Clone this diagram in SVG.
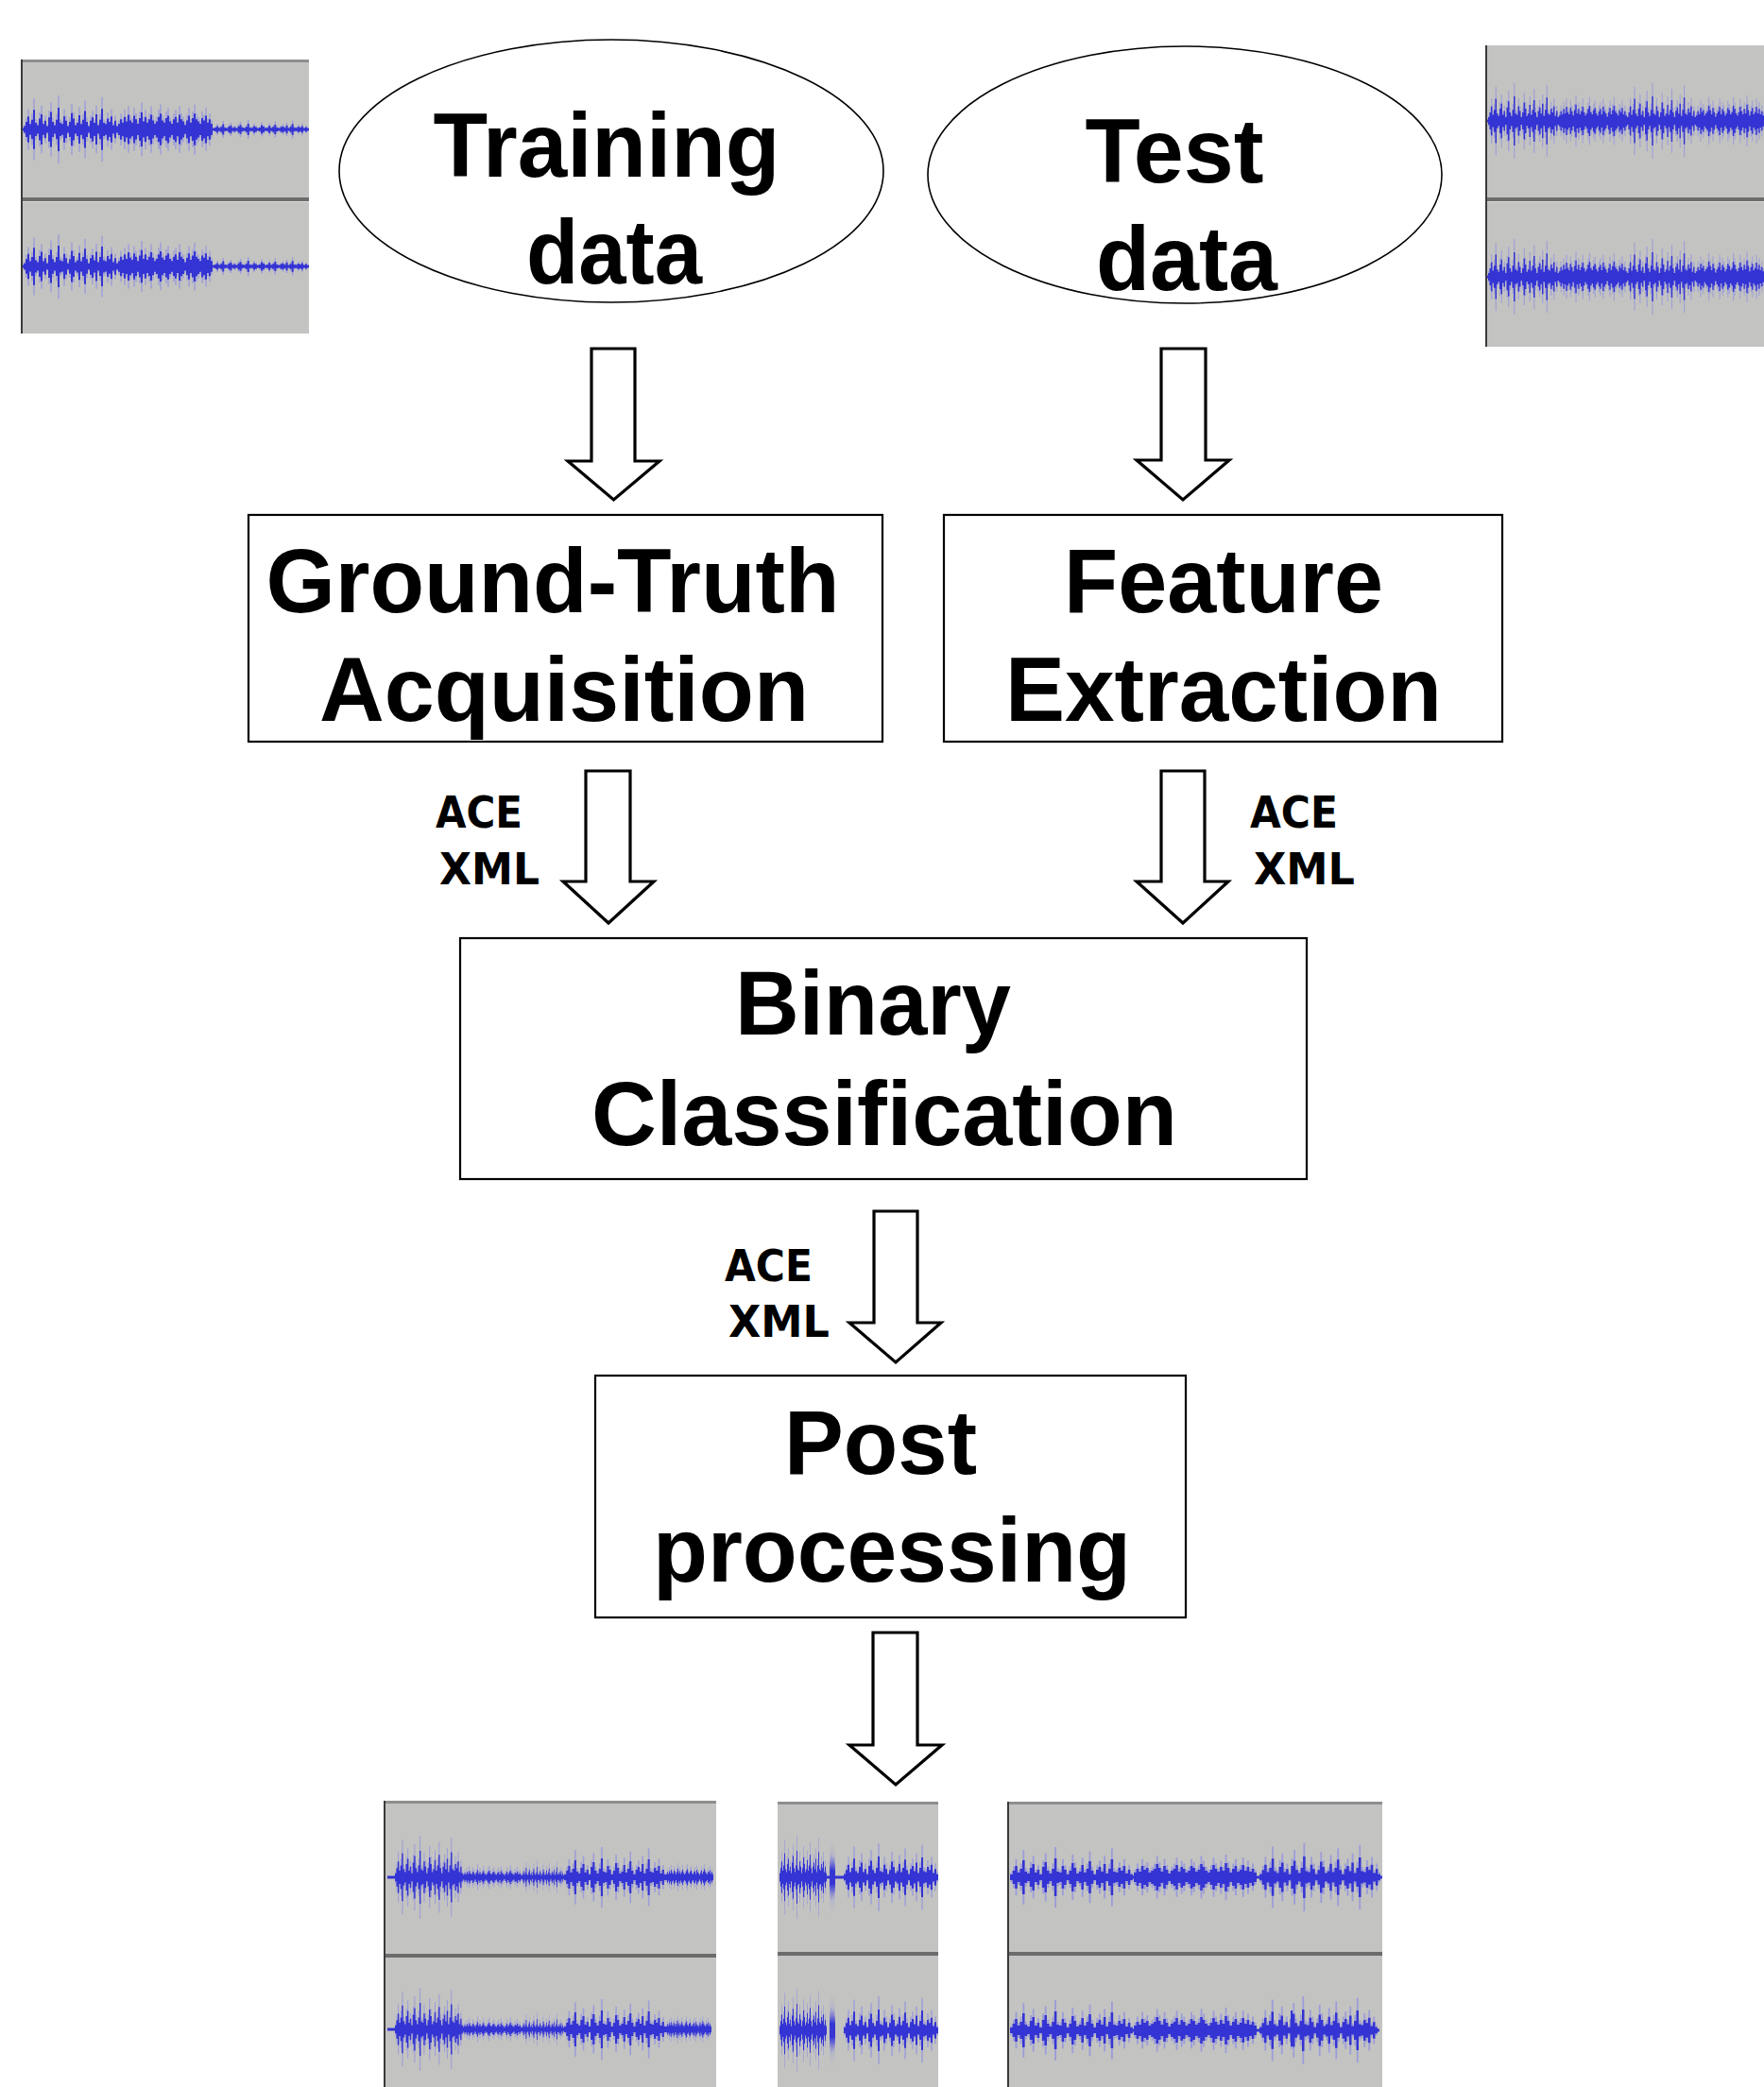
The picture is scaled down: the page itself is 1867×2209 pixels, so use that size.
<svg xmlns="http://www.w3.org/2000/svg" xmlns:xlink="http://www.w3.org/1999/xlink" width="1867" height="2209" viewBox="0 0 1867 2209">
<style>
.bg{fill:#ffffff}
.ell{fill:#ffffff;stroke:#000;stroke-width:1.6}
.box{fill:#ffffff;stroke:#000;stroke-width:2.2}
.t{font-family:"Liberation Sans",Arial,sans-serif;font-weight:bold;font-size:96px;fill:#000;text-anchor:middle}
.lab{font-family:"Comic Sans MS","DejaVu Sans",sans-serif;font-weight:bold;font-size:46px;fill:#000}
.arr{fill:#ffffff;stroke:#000;stroke-width:3.2;stroke-linejoin:miter}
.panel{fill:#c3c3c1}
.ptop{fill:#8e8e8e}
.pleft{fill:#3a3a3a}
.pdiv{fill:#6c6c6c}
.pdivl{fill:#dcdcdc}
.wave{fill:none;stroke:#3434d4;stroke-width:2}
.halo{fill:none;stroke:#8c8ce4;stroke-width:1.4;opacity:0.7}
.base{stroke:#3434d4;stroke-width:3}
</style>
<defs>
<path id="wl" d="M1-5v10M3-9v18M5-6v12M7-11v22M9-7v14M11-13v26M13-8v16M15-6v12M17-12v24M19-9v18M21-5v10M23-10v20M25-15v30M27-7v14M29-11v22M31-6v12M33-9v18M35-13v26M37-8v16M39-5v10M41-7v14M43-11v22M45-14v28M47-8v16M49-6v12M51-10v20M53-12v24M55-7v14M57-5v10M59-9v18M61-11v22M63-6v12M65-13v26M67-9v18M69-7v14M71-4v8M73-8v16M75-12v24M77-6v12M79-10v20M81-14v28M83-9v18M85-7v14M87-5v10M89-10v20M91-8v16M93-12v24M95-6v12M97-9v18M99-5v10"/>
<path id="w2" d="M1-3v6M3-7v14M5-12v24M7-5v10M9-9v18M11-18v36M13-6v12M15-4v8M17-10v20M19-14v28M21-5v10M23-8v16M25-3v6M27-11v22M29-16v32M31-7v14M33-4v8M35-9v18M37-20v40M39-6v12M41-5v10M43-12v24M45-8v16M47-3v6M49-7v14M51-15v30M53-10v20M55-4v8M57-6v12M59-13v26M61-5v10M63-9v18M65-17v34M67-7v14M69-3v6M71-8v16M73-11v22M75-6v12M77-14v28M79-4v8M81-9v18M83-19v38M85-6v12M87-5v10M89-10v20M91-7v14M93-12v24M95-4v8M97-8v16M99-3v6"/>
</defs>
<rect class="bg" x="0" y="0" width="1867" height="2209"/>

<!-- waveform picture, top left -->
<g id="wave-training">
<rect class="panel" x="23" y="63" width="304" height="290"/>
<rect class="ptop" x="23" y="63" width="304" height="3"/>
<rect class="pdiv" x="23" y="209" width="304" height="4"/>
<rect class="pdivl" x="23" y="213" width="304" height="1"/>
<rect class="pleft" x="22" y="63" width="2" height="290"/>
<line class="base" x1="24" y1="137" x2="327" y2="137"/>
<line class="base" x1="24" y1="282" x2="327" y2="282"/>
<use href="#w2" class="halo" transform="translate(25,137) scale(1,1.8)"/>
<use href="#w2" class="wave" transform="translate(25,137) scale(1,1.15)"/>
<use href="#wl" class="halo" transform="translate(125,137) scale(1,1.9)"/>
<use href="#wl" class="wave" transform="translate(125,137) scale(1,1.2)"/>
<use href="#w2" class="halo" transform="translate(225,137) scale(1.02,0.5)"/>
<use href="#w2" class="wave" transform="translate(225,137) scale(1.02,0.3)"/>
<use href="#w2" class="halo" transform="translate(25,282) scale(1,1.7)"/>
<use href="#w2" class="wave" transform="translate(25,282) scale(1,1.1)"/>
<use href="#wl" class="halo" transform="translate(125,282) scale(1,1.8)"/>
<use href="#wl" class="wave" transform="translate(125,282) scale(1,1.15)"/>
<use href="#w2" class="halo" transform="translate(225,282) scale(1.02,0.5)"/>
<use href="#w2" class="wave" transform="translate(225,282) scale(1.02,0.3)"/>
</g>

<!-- waveform picture, top right -->
<g id="wave-test">
<rect class="panel" x="1573" y="48" width="294" height="319"/>
<rect class="pdiv" x="1573" y="209" width="294" height="4"/>
<rect class="pdivl" x="1573" y="213" width="294" height="1"/>
<rect class="pleft" x="1572" y="48" width="2" height="319"/>
<line class="base" x1="1574" y1="128" x2="1867" y2="128"/>
<line class="base" x1="1574" y1="293" x2="1867" y2="293"/>
<use href="#w2" class="halo" transform="translate(1575,128) scale(0.75,2.0)"/>
<use href="#w2" class="wave" transform="translate(1575,128) scale(0.75,1.3)"/>
<use href="#wl" class="halo" transform="translate(1650,128) scale(0.72,1.8)"/>
<use href="#wl" class="wave" transform="translate(1650,128) scale(0.72,1.15)"/>
<use href="#w2" class="halo" transform="translate(1722,128) scale(0.73,2.0)"/>
<use href="#w2" class="wave" transform="translate(1722,128) scale(0.73,1.3)"/>
<use href="#wl" class="halo" transform="translate(1867,128) scale(-0.72,1.8)"/>
<use href="#wl" class="wave" transform="translate(1867,128) scale(-0.72,1.15)"/>
<use href="#w2" class="halo" transform="translate(1575,293) scale(0.75,2.0)"/>
<use href="#w2" class="wave" transform="translate(1575,293) scale(0.75,1.3)"/>
<use href="#wl" class="halo" transform="translate(1650,293) scale(0.72,1.8)"/>
<use href="#wl" class="wave" transform="translate(1650,293) scale(0.72,1.15)"/>
<use href="#w2" class="halo" transform="translate(1722,293) scale(0.73,2.0)"/>
<use href="#w2" class="wave" transform="translate(1722,293) scale(0.73,1.3)"/>
<use href="#wl" class="halo" transform="translate(1867,293) scale(-0.72,1.8)"/>
<use href="#wl" class="wave" transform="translate(1867,293) scale(-0.72,1.15)"/>
</g>

<!-- waveform pictures, bottom -->
<g id="wave-out-1">
<rect class="panel" x="407" y="1906" width="351" height="303"/>
<rect class="ptop" x="407" y="1906" width="351" height="3"/>
<rect class="pdiv" x="407" y="2068" width="351" height="4"/>
<rect class="pleft" x="406" y="1906" width="2" height="303"/>
<line class="base" x1="410" y1="1987" x2="755" y2="1987"/>
<line class="base" x1="410" y1="2148" x2="752" y2="2148"/>
<use href="#w2" class="halo" transform="translate(418,1987) scale(0.72,2.2)"/>
<use href="#w2" class="wave" transform="translate(418,1987) scale(0.72,1.4)"/>
<use href="#wl" class="halo" transform="translate(490,1987) scale(0.62,0.9)"/>
<use href="#wl" class="wave" transform="translate(490,1987) scale(0.62,0.5)"/>
<use href="#w2" class="halo" transform="translate(552,1987) scale(0.45,0.9)"/>
<use href="#w2" class="wave" transform="translate(552,1987) scale(0.45,0.55)"/>
<use href="#w2" class="halo" transform="translate(597,1987) scale(1.08,1.6)"/>
<use href="#w2" class="wave" transform="translate(597,1987) scale(1.08,1.0)"/>
<use href="#wl" class="halo" transform="translate(705,1987) scale(0.5,1.0)"/>
<use href="#wl" class="wave" transform="translate(705,1987) scale(0.5,0.6)"/>
<use href="#w2" class="halo" transform="translate(418,2148) scale(0.72,2.2)"/>
<use href="#w2" class="wave" transform="translate(418,2148) scale(0.72,1.4)"/>
<use href="#wl" class="halo" transform="translate(490,2148) scale(0.62,0.9)"/>
<use href="#wl" class="wave" transform="translate(490,2148) scale(0.62,0.5)"/>
<use href="#w2" class="halo" transform="translate(552,2148) scale(0.45,0.9)"/>
<use href="#w2" class="wave" transform="translate(552,2148) scale(0.45,0.55)"/>
<use href="#w2" class="halo" transform="translate(597,2148) scale(1.08,1.6)"/>
<use href="#w2" class="wave" transform="translate(597,2148) scale(1.08,1.0)"/>
<use href="#wl" class="halo" transform="translate(705,2148) scale(0.48,1.0)"/>
<use href="#wl" class="wave" transform="translate(705,2148) scale(0.48,0.6)"/>
</g>

<g id="wave-out-2">
<rect class="panel" x="823" y="1907" width="170" height="302"/>
<rect class="ptop" x="823" y="1907" width="170" height="3"/>
<rect class="pdiv" x="823" y="2066" width="170" height="4"/>
<line class="base" x1="825" y1="1987" x2="993" y2="1987"/>
<line class="base" x1="825" y1="2149" x2="875" y2="2149"/>
<line class="base" x1="893" y1="2149" x2="993" y2="2149"/>
<use href="#w2" class="halo" transform="translate(825,1987) scale(0.5,2.2)"/>
<use href="#w2" class="wave" transform="translate(825,1987) scale(0.5,1.4)"/>
<use href="#wl" class="halo" transform="translate(878,1987) scale(0.06,2.6)"/>
<use href="#wl" class="wave" transform="translate(878,1987) scale(0.06,1.6)"/>
<use href="#w2" class="halo" transform="translate(893,1987) scale(1.0,1.8)"/>
<use href="#w2" class="wave" transform="translate(893,1987) scale(1.0,1.1)"/>
<use href="#w2" class="halo" transform="translate(825,2149) scale(0.5,2.2)"/>
<use href="#w2" class="wave" transform="translate(825,2149) scale(0.5,1.4)"/>
<use href="#wl" class="halo" transform="translate(878,2149) scale(0.06,2.6)"/>
<use href="#wl" class="wave" transform="translate(878,2149) scale(0.06,1.6)"/>
<use href="#w2" class="halo" transform="translate(893,2149) scale(1.0,1.8)"/>
<use href="#w2" class="wave" transform="translate(893,2149) scale(1.0,1.1)"/>
</g>

<g id="wave-out-3">
<rect class="panel" x="1067" y="1907" width="396" height="302"/>
<rect class="ptop" x="1067" y="1907" width="396" height="3"/>
<rect class="pdiv" x="1067" y="2066" width="396" height="4"/>
<rect class="pleft" x="1066" y="1907" width="2" height="302"/>
<line class="base" x1="1069" y1="1987" x2="1463" y2="1987"/>
<line class="base" x1="1069" y1="2149" x2="1460" y2="2149"/>
<use href="#w2" class="halo" transform="translate(1069,1987) scale(1.3,1.6)"/>
<use href="#w2" class="wave" transform="translate(1069,1987) scale(1.3,1.0)"/>
<use href="#wl" class="halo" transform="translate(1330,1987) scale(-1.3,1.6)"/>
<use href="#wl" class="wave" transform="translate(1330,1987) scale(-1.3,1.0)"/>
<use href="#w2" class="halo" transform="translate(1333,1987) scale(1.28,1.8)"/>
<use href="#w2" class="wave" transform="translate(1333,1987) scale(1.28,1.1)"/>
<use href="#w2" class="halo" transform="translate(1069,2149) scale(1.3,1.6)"/>
<use href="#w2" class="wave" transform="translate(1069,2149) scale(1.3,1.0)"/>
<use href="#wl" class="halo" transform="translate(1330,2149) scale(-1.3,1.6)"/>
<use href="#wl" class="wave" transform="translate(1330,2149) scale(-1.3,1.0)"/>
<use href="#w2" class="halo" transform="translate(1333,2149) scale(1.25,1.8)"/>
<use href="#w2" class="wave" transform="translate(1333,2149) scale(1.25,1.1)"/>
<rect fill="#3434d4" x="1366" y="2128" width="2" height="38"/>
</g>

<!-- nodes -->
<g id="node-training-data">
<ellipse class="ell" cx="647" cy="181" rx="288" ry="139"/>
<text class="t" x="642" y="187" textLength="367" lengthAdjust="spacingAndGlyphs">Training</text>
<text class="t" x="650" y="300" textLength="186" lengthAdjust="spacingAndGlyphs">data</text>
</g>
<g id="node-test-data">
<ellipse class="ell" cx="1254" cy="185" rx="272" ry="136"/>
<text class="t" x="1243" y="193" textLength="189" lengthAdjust="spacingAndGlyphs">Test</text>
<text class="t" x="1256" y="307" textLength="192" lengthAdjust="spacingAndGlyphs">data</text>
</g>
<g id="node-ground-truth">
<rect class="box" x="263" y="545" width="671" height="240"/>
<text class="t" x="585" y="648" textLength="607" lengthAdjust="spacingAndGlyphs">Ground-Truth</text>
<text class="t" x="597" y="763" textLength="518" lengthAdjust="spacingAndGlyphs">Acquisition</text>
</g>
<g id="node-feature-extraction">
<rect class="box" x="999" y="545" width="591" height="240"/>
<text class="t" x="1295" y="648" textLength="338" lengthAdjust="spacingAndGlyphs">Feature</text>
<text class="t" x="1295" y="763" textLength="462" lengthAdjust="spacingAndGlyphs">Extraction</text>
</g>
<g id="node-binary-classification">
<rect class="box" x="487" y="993" width="896" height="255"/>
<text class="t" x="924" y="1095" textLength="292" lengthAdjust="spacingAndGlyphs">Binary</text>
<text class="t" x="936" y="1212" textLength="620" lengthAdjust="spacingAndGlyphs">Classification</text>
</g>
<g id="node-post-processing">
<rect class="box" x="630" y="1456" width="625" height="256"/>
<text class="t" x="932" y="1560" textLength="204" lengthAdjust="spacingAndGlyphs">Post</text>
<text class="t" x="944" y="1674" textLength="506" lengthAdjust="spacingAndGlyphs">processing</text>
</g>

<!-- connectors -->
<g id="connectors">
<polygon class="arr" points="626,369 672,369 672,488 698,488 649.5,529 601,488 626,488"/>
<polygon class="arr" points="1229,369 1276,369 1276,487 1301,487 1252,529 1203,487 1229,487"/>
<polygon class="arr" points="620,816 667,816 667,933 692,933 644,977 596,933 620,933"/>
<polygon class="arr" points="1229,816 1275,816 1275,933 1300,933 1252,977 1203,933 1229,933"/>
<polygon class="arr" points="925,1282 971,1282 971,1400 996,1400 948,1442 899,1400 925,1400"/>
<polygon class="arr" points="924,1728 971,1728 971,1847 997,1847 948,1889 899,1847 924,1847"/>
<text class="lab" x="461" y="876" textLength="92" lengthAdjust="spacingAndGlyphs">ACE</text>
<text class="lab" x="465" y="936" textLength="106" lengthAdjust="spacingAndGlyphs">XML</text>
<text class="lab" x="1323" y="876" textLength="93" lengthAdjust="spacingAndGlyphs">ACE</text>
<text class="lab" x="1327" y="936" textLength="107" lengthAdjust="spacingAndGlyphs">XML</text>
<text class="lab" x="767" y="1356" textLength="93" lengthAdjust="spacingAndGlyphs">ACE</text>
<text class="lab" x="771" y="1415" textLength="107" lengthAdjust="spacingAndGlyphs">XML</text>
</g>
</svg>
